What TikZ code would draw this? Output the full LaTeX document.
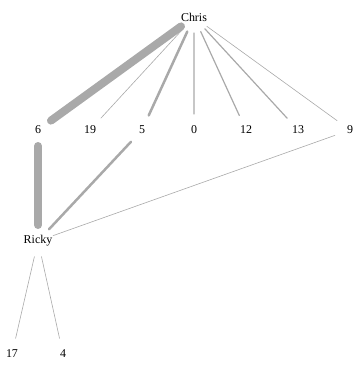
\documentclass[tikz,border=0pt]{standalone}
\usepackage{fontspec}
\setmainfont{Liberation Serif}
\usetikzlibrary{positioning}
\definecolor{edgegray}{RGB}{169,169,169}

\begin{document}
\begin{tikzpicture}[x=1bp, y=-1bp, node distance=52bp,
        font=\fontsize{12}{14}\selectfont,
        tie/.style={draw=edgegray, line cap=round, shorten <=16bp, shorten >=16bp},
        faint/.style={tie, line width=0.6bp},
        light/.style={tie, line width=1.2bp},
        medium/.style={tie, line width=2.5bp},
        heavy/.style={tie, line width=8bp}]
        \useasboundingbox (0,0) rectangle (358,365);

        \node (chris) at (194,17) {Chris};
        \node (six) at (38,130) {6};
        \node (nineteen) [right of=six] {19};
        \node (five) [right of=nineteen] {5};
        \node (zero) [right of=five] {0};
        \node (twelve) [right of=zero] {12};
        \node (thirteen) [right of=twelve] {13};
        \node (nine) [right of=thirteen] {9};
        \node (ricky) at (38,241) {Ricky};
        \node (seventeen) at (12,354) {17};
        \node (four) at (63,354) {4};

        \draw[heavy] (chris.center) -- (six.center);
        \draw[faint] (chris.center) -- (nineteen.center);
        \draw[medium] (chris.center) -- (five.center);
        \draw[light] (chris.center) -- (zero.center);
        \draw[light] (chris.center) -- (twelve.center);
        \draw[light] (chris.center) -- (thirteen.center);
        \draw[faint] (chris.center) -- (nine.center);
        \draw[heavy] (six.center) -- (ricky.center);
        \draw[medium] (five.center) -- (ricky.center);
        \draw[faint] (nine.center) -- (ricky.center);
        \draw[faint] (ricky.center) -- (seventeen.center);
        \draw[faint] (ricky.center) -- (four.center);

\end{tikzpicture}
\end{document}
